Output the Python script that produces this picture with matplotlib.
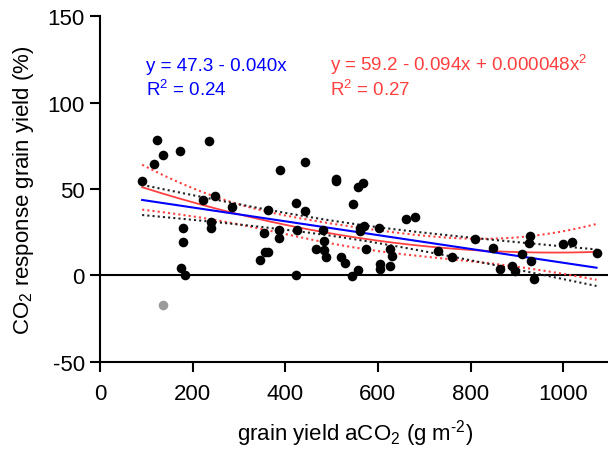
import numpy as np
import matplotlib
matplotlib.use("Agg")
import matplotlib.pyplot as plt

plt.rcParams['font.family'] = ['Liberation Sans', 'DejaVu Sans']
plt.rcParams['axes.unicode_minus'] = False
plt.rcParams['mathtext.fontset'] = 'custom'
plt.rcParams['mathtext.rm'] = 'Liberation Sans'
plt.rcParams['mathtext.it'] = 'Liberation Sans:italic'
plt.rcParams['mathtext.default'] = 'regular'

# grain yield at ambient CO2 (g m-2) and CO2 response of grain yield (%)
yield_a = [91, 117, 124, 137, 173, 180, 180, 175, 184, 236, 222, 248, 239, 239,
           284, 345, 362, 389, 443, 423, 443, 510, 510, 558, 567, 547, 354, 387,
           387, 425, 482, 484, 484, 487, 466, 356, 362, 423, 520, 528, 561, 561,
           571, 602, 574, 556, 543, 605, 605, 661, 679, 626, 631, 626, 729, 761,
           810, 848, 863, 928, 927, 912, 930, 890, 895, 937, 999, 1020, 1072]
response = [54.4, 64.2, 78.3, 69.4, 71.8, 27.5, 19.1, 4.2, 0.3, 77.7, 43.8, 45.7,
            30.7, 27.4, 39.5, 8.7, 37.8, 61.1, 65.6, 41.8, 37.0, 55.9, 54.4, 51.1,
            53.4, 41.4, 24.3, 26.0, 21.6, 26.4, 26.4, 20.0, 14.8, 10.4, 15.4, 13.3,
            13.3, 0.3, 10.8, 7.1, 27.4, 25.5, 28.4, 27.2, 15.4, 3.3, -0.6, 6.5, 3.8,
            32.6, 33.6, 15.2, 11.0, 5.2, 13.9, 10.8, 21.0, 15.8, 3.8, 22.6, 18.7,
            12.5, 8.5, 5.2, 2.7, -2.0, 18.1, 19.4, 12.9]

# excluded outlier (grey)
outlier_x = [135]
outlier_y = [-17.2]

# published fit coefficients
lin_coef = [47.3, -0.040]
quad_coef = [59.2, -0.094, 0.000048]
t_crit = 2.0

x = np.array(yield_a, dtype=float)
y = np.array(response, dtype=float)
xs = np.linspace(x.min(), x.max(), 200)


def fit_band(deg, coef):
    X = np.vander(x, deg + 1, increasing=True)
    beta, *_ = np.linalg.lstsq(X, y, rcond=None)
    resid = y - X @ beta
    s2 = resid @ resid / (len(x) - deg - 1)
    cov = s2 * np.linalg.inv(X.T @ X)
    Xs = np.vander(xs, deg + 1, increasing=True)
    se = np.sqrt(np.einsum('ij,jk,ik->i', Xs, cov, Xs))
    mid = Xs @ np.array(coef)
    return mid, mid - t_crit * se, mid + t_crit * se


lin_mid, lin_lo, lin_hi = fit_band(1, lin_coef)
quad_mid, quad_lo, quad_hi = fit_band(2, quad_coef)

blue = "#0000ff"
red = "#ff4040"
dots = (0, (1, 1.5))

fig = plt.figure(figsize=(6.08, 4.52), dpi=100)
ax = fig.add_axes([100 / 608, 1 - 362.7 / 452, 509.5 / 608, 345.4 / 452])

ax.axhline(0, color="black", lw=1.5, zorder=1)

ax.plot(xs, quad_lo, color=red, lw=1.5, ls=dots, zorder=2)
ax.plot(xs, quad_hi, color=red, lw=1.5, ls=dots, zorder=2)
ax.plot(xs, lin_lo, color="#222222", lw=1.5, ls=dots, zorder=2)
ax.plot(xs, lin_hi, color="#222222", lw=1.5, ls=dots, zorder=2)
ax.plot(xs, quad_mid, color=red, lw=1.3, zorder=3)
ax.plot(xs, lin_mid, color=blue, lw=1.5, zorder=3)

ax.scatter(x, y, s=48, color="black", zorder=4, linewidths=0)
ax.scatter(outlier_x, outlier_y, s=48, color="#9a9a9a", zorder=4, linewidths=0)

ax.set_xlim(0, 1100)
ax.set_ylim(-50, 150)
ax.set_xticks([0, 200, 400, 600, 800, 1000])
ax.set_yticks([-50, 0, 50, 100, 150])
ax.tick_params(labelsize=16, width=1.5, length=7, direction="out")
ax.tick_params(axis="x", pad=8)
ax.tick_params(axis="y", pad=4)
for side in ["top", "right"]:
    ax.spines[side].set_visible(False)
for side in ["left", "bottom"]:
    ax.spines[side].set_linewidth(1.5)

ax.set_xlabel(r"grain yield aCO$_2$ (g m$^{\text{-}2}$)", fontsize=16, labelpad=10)
ax.set_ylabel("CO$_2$ response grain yield (%)", fontsize=16, labelpad=8)

ax.text(0.09, 0.845, "y = 47.3 - 0.040x", color=blue, fontsize=13.5, transform=ax.transAxes)
ax.text(0.09, 0.773, "R$^2$ = 0.24", color=blue, fontsize=13.5, transform=ax.transAxes)
ax.text(0.452, 0.845, "y = 59.2 - 0.094x + 0.000048x$^2$", color=red, fontsize=13.5,
        transform=ax.transAxes)
ax.text(0.452, 0.773, "R$^2$ = 0.27", color=red, fontsize=13.5, transform=ax.transAxes)

fig.savefig("out.png", dpi=100)
